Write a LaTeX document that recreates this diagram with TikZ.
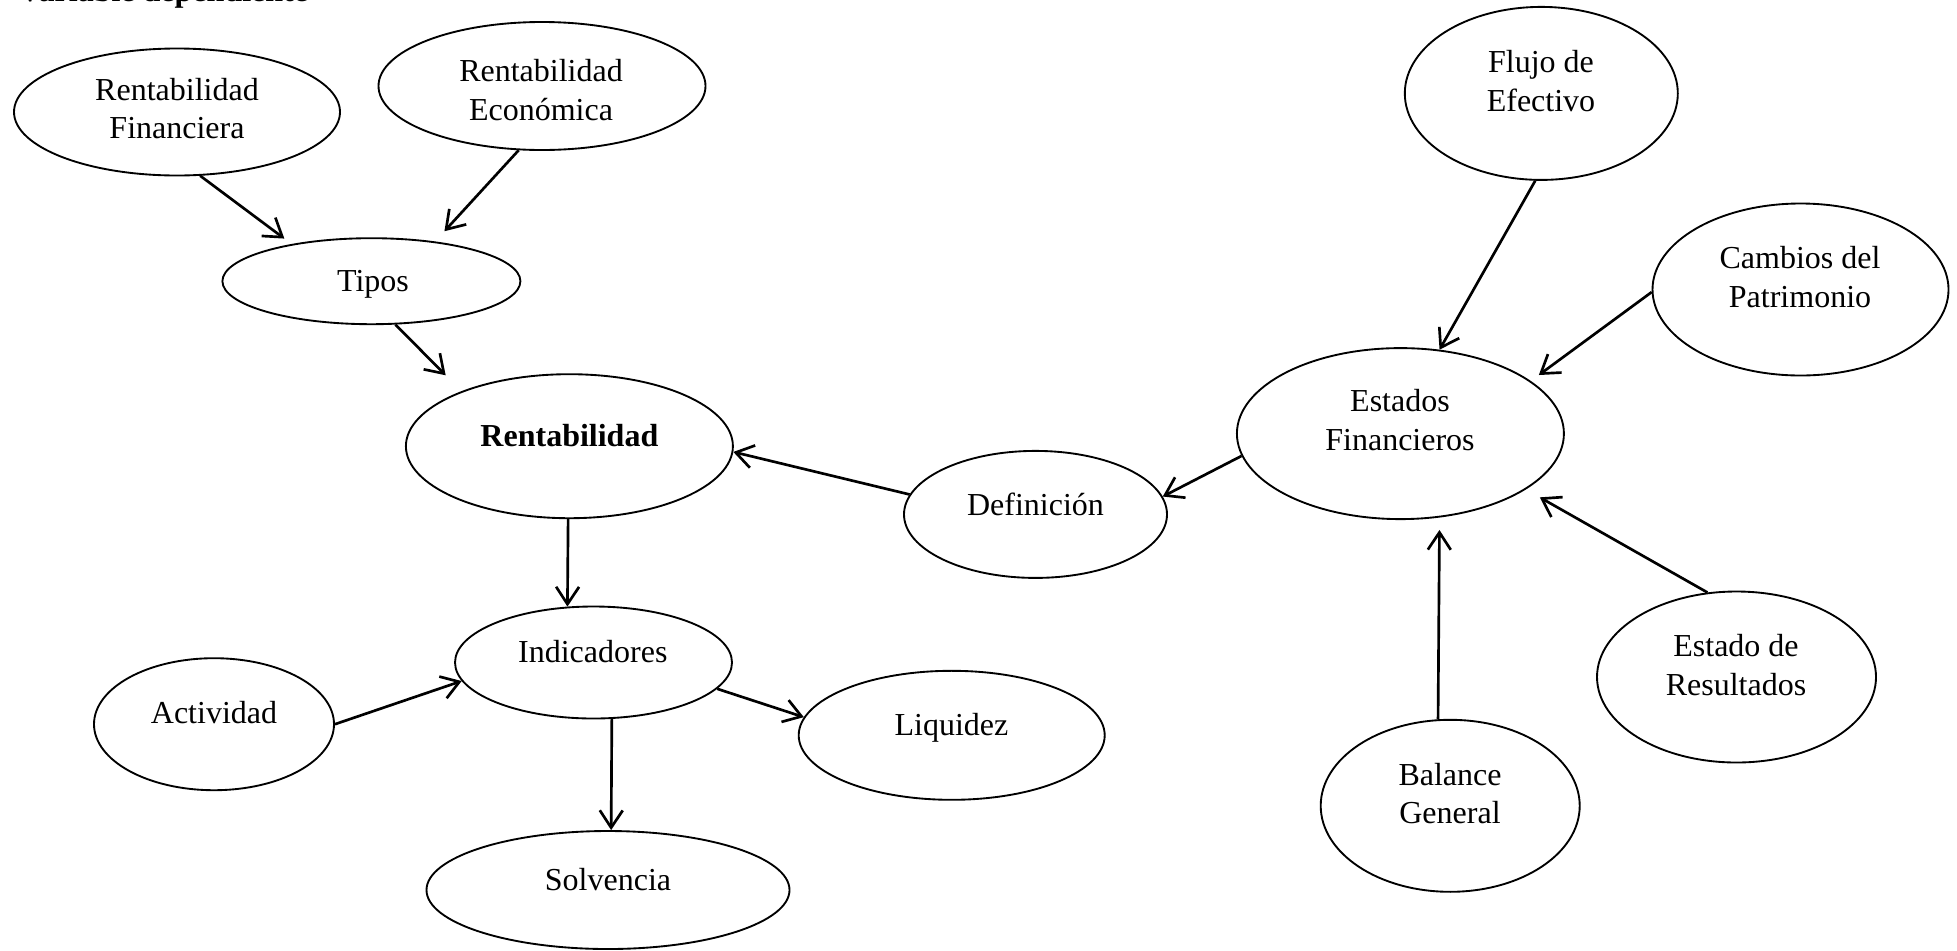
\documentclass[tikz,border=0pt]{standalone}
\usepackage{fontspec}
\setmainfont{Liberation Serif}
\usetikzlibrary{shapes.geometric,arrows.meta}

\begin{document}
\begin{tikzpicture}[x=0.375pt,y=-0.375pt,
  ell/.style 2 args={draw, ellipse, line width=0.7pt,
    minimum width=#1*0.375pt, minimum height=#2*0.375pt, inner sep=0pt},
  lbl/.style={font=\fontsize{12}{14.5}\selectfont, align=center, inner sep=0pt},
  link/.style={line width=1pt, -{Straight Barb[length=6.5pt,width=8.6pt]}}]
\useasboundingbox (0,0) rectangle (1957,950);

% heading, cut by the top edge
\node[font=\fontsize{12}{14.5}\selectfont\bfseries, anchor=base west, inner sep=0pt]
  (head) at (18,1) {Variable dependiente};

% ellipses
\node[ell={326}{127}] (fin)     at (177,112)      {};
\node[ell={327}{128}] (eco)     at (542,86)       {};
\node[ell={298}{86}]  (tipos)   at (371.4,281.2)  {};
\node[ell={327}{144}] (rent)    at (569.4,446.2)  {};
\node[ell={263}{127}] (def)     at (1035.5,514.4) {};
\node[ell={327}{171}] (est)     at (1400.4,433.6) {};
\node[ell={273}{173}] (flujo)   at (1541.3,93.4)  {};
\node[ell={296}{172}] (cambios) at (1800.5,289.5) {};
\node[ell={279}{171}] (result)  at (1736.5,677)   {};
\node[ell={259}{172}] (balance) at (1450.2,805.8) {};
\node[ell={277}{112}] (ind)     at (593.5,662.5)  {};
\node[ell={240}{132}] (activ)   at (214,724.2)    {};
\node[ell={306}{129}] (liq)     at (951.7,735.3)  {};
\node[ell={363}{118}] (solv)    at (608,890)      {};

% texts
\node[lbl] (fin-t) at (177,108.6) {Rentabilidad\\Financiera};
\node[lbl] (eco-t) at (541,90.3) {Rentabilidad\\Económica};
\node[lbl, anchor=base] (tipos-t) at (373,291.7) {Tipos};
\node[lbl, anchor=base, font=\fontsize{12}{14.5}\selectfont\bfseries] (rent-t) at (569.4,446) {Rentabilidad};
\node[lbl, anchor=base] (def-t) at (1035.5,515) {Definición};
\node[lbl] (est-t) at (1400,420.3) {Estados\\Financieros};
\node[lbl] (flujo-t) at (1541,81.3) {Flujo de\\Efectivo};
\node[lbl] (cambios-t) at (1800,276.9) {Cambios del\\Patrimonio};
\node[lbl] (result-t) at (1736,665.3) {Estado de\\Resultados};
\node[lbl] (balance-t) at (1450,793.6) {Balance\\General};
\node[lbl, anchor=base] (ind-t) at (592.8,662.7) {Indicadores};
\node[lbl, anchor=base] (activ-t) at (214,723.3) {Actividad};
\node[lbl, anchor=base] (liq-t) at (951.5,735) {Liquidez};
\node[lbl, anchor=base] (solv-t) at (608,890.7) {Solvencia};

% connectors
\draw[link, shorten >=3.4pt] (fin.-70.5) -- (tipos.155.4);
\draw[link, shorten >=5.2pt] (eco.-110.3) -- (tipos.32);
\draw[link, shorten >=8.4pt] (tipos.-61) -- (rent.153.4);
\draw[link] (rent.-91.5) -- (ind.115.4);
\draw[link] (def.171.6) -- (rent.-2.3);
\draw[link] (est.188) -- (def.8.3);
\draw[link] (flujo.-94.8) -- (est.65.8);
\draw[link, shorten >=3.75pt] (cambios.181.5) -- (est.22.3);
\draw[link, shorten >=6pt] (result.109.3) -- (est.-24.1);
\draw[link, shorten >=4.65pt] (balance.98.4) -- (est.-65.9);
\draw[link] (activ.-0.85) -- (ind.188.6);
\draw[link] (ind.-12.2) -- (liq.173.4);
\draw[link] (ind.-72.5) -- (solv.87.1);
\end{tikzpicture}
\end{document}
